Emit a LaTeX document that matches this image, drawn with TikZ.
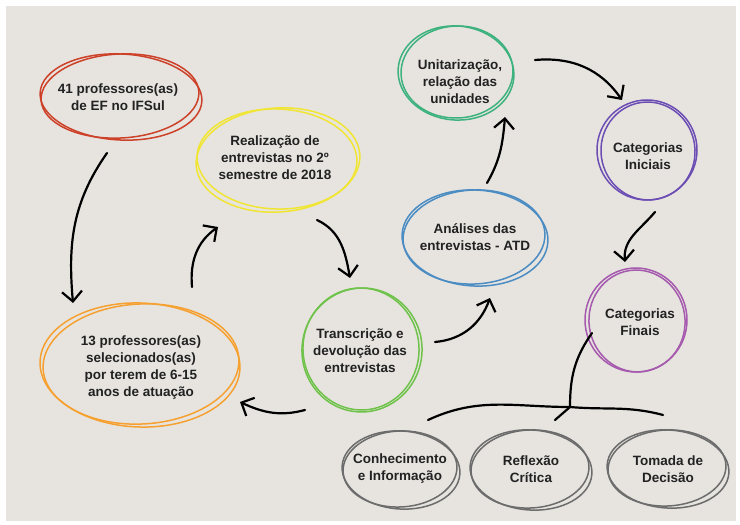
\documentclass[tikz,border=0pt]{standalone}
\usepackage{fontspec}
\setmainfont{Liberation Sans}
\usepackage{xcolor}
\usepackage{tikz}
\usetikzlibrary{arrows.meta}

\definecolor{paper}{HTML}{E7E4E0}
\definecolor{ink}{HTML}{222222}
\definecolor{cred}{HTML}{CC4128}
\definecolor{cyellow}{HTML}{F0E532}
\definecolor{cgreenu}{HTML}{3DB27E}
\definecolor{cpurple}{HTML}{6B4DB3}
\definecolor{cblue}{HTML}{4B8CC2}
\definecolor{corange}{HTML}{F6A030}
\definecolor{cgreent}{HTML}{6FC24A}
\definecolor{cmagenta}{HTML}{A55AAD}
\definecolor{cgray}{HTML}{6C6C6C}

\begin{document}
\begin{tikzpicture}[x=1pt,y=1pt,
  lbl/.style={align=center,font=\bfseries\fontsize{13.5}{17}\selectfont,text=ink},
  ring/.style={line width=1.5pt},
  arr/.style={line width=2.2pt,line cap=round,-{Straight Barb[length=10pt,width=20pt,line width=2.2pt]}},
  stroke/.style={line width=2.2pt,line cap=round}]
\useasboundingbox (0,0) rectangle (740,525);
\fill[paper] (6,4) rectangle (736,519);

% texts
\node[lbl] (prof41) at (118,428) {41 professores(as)\\de EF no IFSul};
\node[lbl] (realiz) at (275,367) {Realização de\\entrevistas no 2º\\semestre de 2018};
\node[lbl] (unitar) at (460,443) {Unitarização,\\relação das\\unidades};
\node[lbl] (iniciais) at (648,369) {Categorias\\Iniciais};
\node[lbl] (analises) at (475,288) {Análises das\\entrevistas - ATD};
\node[lbl] (prof13) at (141,157) {13 professores(as)\\selecionados(as)\\por terem de 6-15\\anos de atuação};
\node[lbl] (transcr) at (360,174) {Transcrição e\\devolução das\\entrevistas};
\node[lbl] (finais) at (640,203) {Categorias\\Finais};
\node[lbl] (conhec) at (400,56) {Conhecimento\\e Informação};
\node[lbl] (reflex) at (531,56) {Reflexão\\Crítica};
\node[lbl] (tomada) at (668,56) {Tomada de\\Decisão};

% rings
\draw[ring,cred] ([shift={(3,0)}]prof41.center) ellipse [x radius=81,y radius=43,rotate=-3];
\draw[ring,cred] ([shift={(2,1)}]prof41.center) ellipse [x radius=79,y radius=42,rotate=3];
\draw[ring,cyellow] ([shift={(3,-2)}]realiz.center) ellipse [x radius=82,y radius=52,rotate=4];
\draw[ring,cyellow] ([shift={(2,-1)}]realiz.center) ellipse [x radius=80,y radius=50,rotate=-2];
\draw[ring,cgreenu] ([shift={(-4,9)}]unitar.center) ellipse [x radius=58,y radius=47,rotate=-5];
\draw[ring,cgreenu] ([shift={(-3,10)}]unitar.center) ellipse [x radius=56,y radius=46,rotate=3];
\draw[ring,cpurple] ([shift={(-1,6)}]iniciais.center) ellipse [x radius=50,y radius=50];
\draw[ring,cpurple] ([shift={(0,5)}]iniciais.center) ellipse [x radius=47,y radius=49,rotate=8];
\draw[ring,cblue] ([shift={(0,-1)}]analises.center) ellipse [x radius=73,y radius=48,rotate=-3];
\draw[ring,cblue] ([shift={(-1,0)}]analises.center) ellipse [x radius=71,y radius=47,rotate=3];
\draw[ring,corange] ([shift={(-1,3)}]prof13.center) ellipse [x radius=100,y radius=62,rotate=-2];
\draw[ring,corange] ([shift={(0,4)}]prof13.center) ellipse [x radius=98,y radius=60,rotate=3];
\draw[ring,cgreent] ([shift={(2,1)}]transcr.center) ellipse [x radius=60,y radius=62,rotate=-8];
\draw[ring,cgreent] ([shift={(1,2)}]transcr.center) ellipse [x radius=58,y radius=61,rotate=5];
\draw[ring,cmagenta] ([shift={(-4,2)}]finais.center) ellipse [x radius=51,y radius=52];
\draw[ring,cmagenta] ([shift={(-3,1)}]finais.center) ellipse [x radius=48,y radius=51,rotate=8];
\draw[ring,cgray] ([shift={(1,-1)}]conhec.center) ellipse [x radius=59,y radius=39,rotate=-4];
\draw[ring,cgray] ([shift={(0,0)}]conhec.center) ellipse [x radius=57,y radius=38,rotate=3];
\draw[ring,cgray] ([shift={(0,-1)}]reflex.center) ellipse [x radius=61,y radius=40,rotate=-4];
\draw[ring,cgray] ([shift={(-1,0)}]reflex.center) ellipse [x radius=59,y radius=39,rotate=3];
\draw[ring,cgray] ([shift={(0,0)}]tomada.center) ellipse [x radius=61,y radius=39,rotate=-4];
\draw[ring,cgray] ([shift={(-1,1)}]tomada.center) ellipse [x radius=59,y radius=38,rotate=3];

% arrow ends
\coordinate (s41) at (107,372);
\coordinate (e41) at (73,222);
\coordinate (s13) at (192,238);
\coordinate (e13) at (218,298);
\coordinate (sre) at (317,305);
\coordinate (ere) at (350,247);
\coordinate (str) at (305,115);
\coordinate (etr) at (240,123);
\coordinate (stra) at (435,183);
\coordinate (etra) at (490,227);
\coordinate (san) at (487,342);
\coordinate (ean) at (505,408);
\coordinate (sun) at (535,465);
\coordinate (eun) at (622,425);
\coordinate (sin) at (655,313);
\coordinate (ein) at (625,263);
\coordinate (sfi) at (592,192);
\coordinate (join) at (570,118);
\coordinate (bl) at (428,105);
\coordinate (br) at (663,110);

% arrows
\draw[arr] (s41) to [out=-125,in=95] (e41);
\draw[arr] (s13) to [out=95,in=215] (e13);
\draw[arr] (sre) to [out=-25,in=100] (ere);
\draw[arr] (str) to [out=195,in=-25] (etr);
\draw[arr] (stra) to [out=5,in=-110] (etra);
\draw[arr] (san) to [out=60,in=-95] (ean);
\draw[arr] (sun) to [out=5,in=125] (eun);
\draw[arr] (sin) to [out=-130,in=95] (ein);
\draw[stroke] (sfi) to [out=-125,in=90] (join);
\draw[stroke] (bl) to [out=25,in=180] (join) to [out=-5,in=165] (br);
\draw[stroke] (join) -- ++(-15,-13);
\end{tikzpicture}
\end{document}
